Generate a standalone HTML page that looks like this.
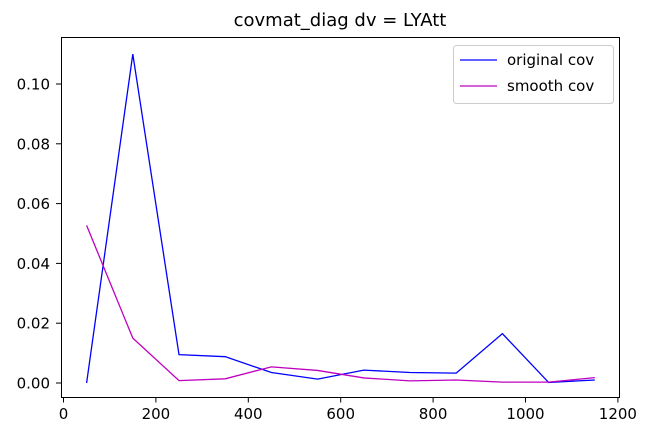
<!DOCTYPE html>
<html><head><meta charset="utf-8"><style>
body{margin:0;background:#fff;font-family:"DejaVu Sans","Liberation Sans",sans-serif;}
</style></head><body>
<svg width="649" height="441" viewBox="0 0 649 441">
<text x="340" y="26" text-anchor="middle" font-size="18">covmat_diag dv = LYAtt</text>
<g id="axes"></g>
<rect x="61.5" y="37.5" width="558" height="360" fill="none" stroke="#000" stroke-width="1"/>
<g>
<rect x="453.5" y="45.5" width="160" height="58" rx="3" fill="#fff" stroke="#ccc"/>
<line x1="460" y1="60" x2="497" y2="60" stroke="#0000ff" stroke-width="1.3"/>
<text x="507" y="65" font-size="15">original cov</text>
<line x1="460" y1="86" x2="497" y2="86" stroke="#bf00bf" stroke-width="1.3"/>
<text x="507" y="91" font-size="15">smooth cov</text>
</g>
</svg>
<script>
const xs=[50,150,250,350,450,550,650,750,850,950,1050,1150];
const original=[0,0.110,0.0095,0.0088,0.0035,0.0013,0.0043,0.0035,0.0033,0.0165,0.0002,0.0010];
const smooth=[0.0527,0.0150,0.0008,0.0014,0.0054,0.0042,0.0017,0.0007,0.0010,0.0003,0.0003,0.0018];
const xTicks=[0,200,400,600,800,1000,1200];
const yTicks=[0,0.02,0.04,0.06,0.08,0.10];
const yLabels=["0.00","0.02","0.04","0.06","0.08","0.10"];
const NS="http://www.w3.org/2000/svg";
const X=v=>63.5+v*0.462;
const Y=v=>383-v*2990;
const g=document.getElementById('axes');
function mk(t,a){const e=document.createElementNS(NS,t);for(const k in a)e.setAttribute(k,a[k]);g.appendChild(e);return e;}
xTicks.forEach(v=>{
 const l=mk('line',{x1:X(v),x2:X(v),y1:397.5,y2:402.5,stroke:'#000'});
 
 
 const t=mk('text',{x:X(v),y:419,'text-anchor':'middle','font-size':15});
 t.textContent=v;
 
 
});
yTicks.forEach((v,i)=>{
 const l=mk('line',{x1:56,x2:61.5,y1:Y(v),y2:Y(v),stroke:'#000'});
 
 
 const t=mk('text',{x:50,y:Y(v)+5.5,'text-anchor':'end','font-size':15});
 t.textContent=yLabels[i];
 
 
});
function series(d,c,n){
 const p=mk('polyline',{points:xs.map((x,i)=>X(x)+','+Y(d[i])).join(' '),fill:'none',stroke:c,'stroke-width':1.3});
 
 
}
series(original,'#0000ff','original-cov-line');
series(smooth,'#bf00bf','smooth-cov-line');
</script>
</body></html>
